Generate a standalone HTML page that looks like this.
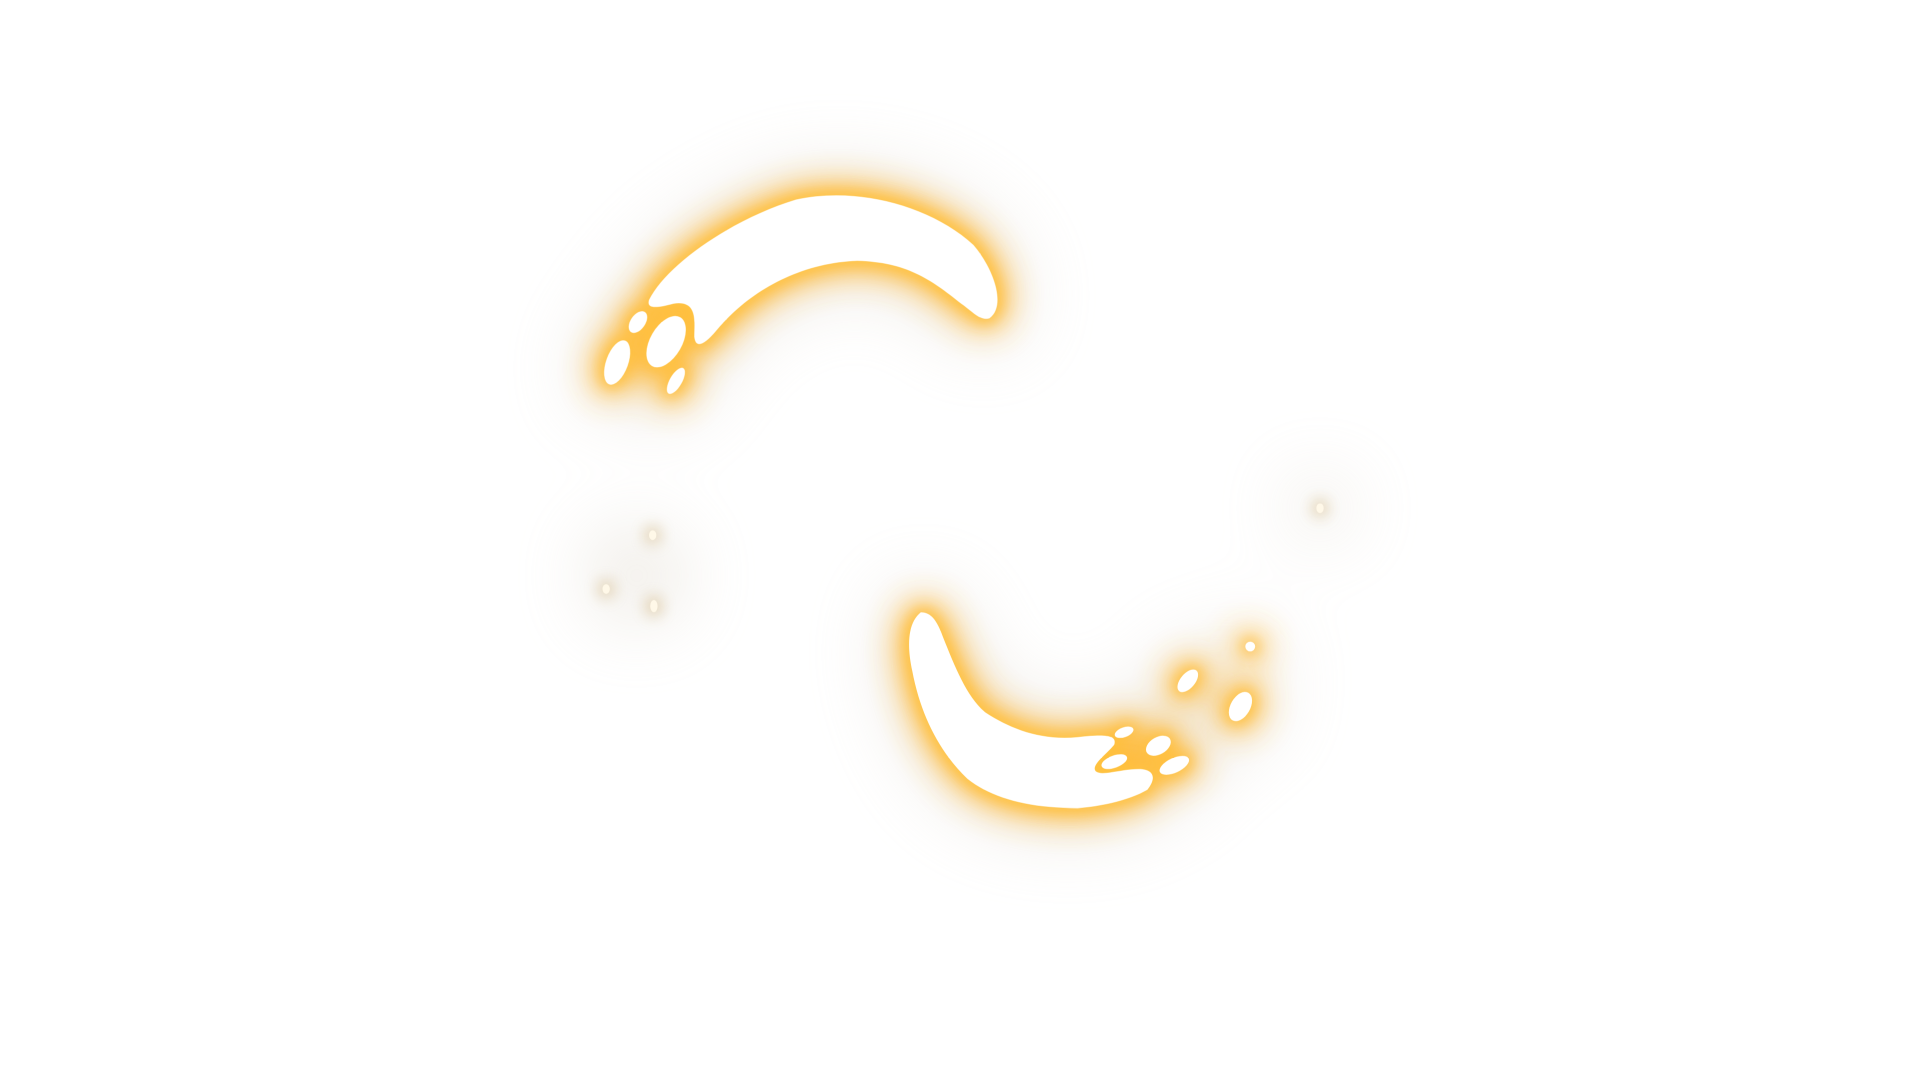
<!DOCTYPE html>
<html><head><meta charset="utf-8"><title>Glow crescents</title>
<style>
html,body{margin:0;padding:0;background:#fff;width:1920px;height:1080px;overflow:hidden;font-family:"Liberation Sans",sans-serif;}
svg{display:block}
</style></head>
<body>
<svg width="1920" height="1080" viewBox="0 0 1568 882" xmlns="http://www.w3.org/2000/svg">
<defs>
  <filter id="wide" x="-50%" y="-50%" width="200%" height="200%"><feGaussianBlur stdDeviation="30"/></filter>
  <filter id="mid" x="-50%" y="-50%" width="200%" height="200%"><feGaussianBlur stdDeviation="14"/></filter>
  <filter id="tight" x="-50%" y="-50%" width="200%" height="200%"><feGaussianBlur stdDeviation="6"/></filter>
  <g id="upper">
    <path d="M530,245 C545,215 600,178 650,163 C700,152 760,168 795,200 C812,220 822,250 808,260 C800,262 795,255 785,248 C760,228 740,214 700,213 C650,215 610,240 585,270 C575,282 568,285 567,275 C567,262 570,245 550,248 C535,252 528,252 530,245 Z"/>
    <ellipse cx="521" cy="263" rx="6" ry="10" transform="rotate(35 521 263)"/>
    <ellipse cx="544" cy="279" rx="13" ry="23" transform="rotate(30 544 279)"/>
    <ellipse cx="504" cy="296" rx="9" ry="19" transform="rotate(20 504 296)"/>
    <ellipse cx="552" cy="311" rx="5" ry="12" transform="rotate(30 552 311)"/>
  </g>
  <g id="lower">
    <path d="M752,500 C742,508 740,525 745,548 C752,585 768,615 790,636 C810,652 840,660 880,660 C905,658 925,652 937,645 C945,635 942,628 930,628 C915,628 900,634 895,630 C890,625 905,615 910,608 C912,601 905,599 880,602 C850,605 825,595 805,582 C790,570 780,545 770,520 C765,506 760,500 752,500 Z"/>
    <ellipse cx="918" cy="598" rx="8" ry="4" transform="rotate(-20 918 598)"/>
    <ellipse cx="910" cy="622" rx="11" ry="5" transform="rotate(-20 910 622)"/>
    <ellipse cx="946" cy="609" rx="11" ry="7" transform="rotate(-30 946 609)"/>
    <ellipse cx="959" cy="625" rx="13" ry="6" transform="rotate(-25 959 625)"/>
    <ellipse cx="970" cy="556" rx="6" ry="11" transform="rotate(40 970 556)"/>
    <ellipse cx="1013" cy="577" rx="8" ry="13" transform="rotate(30 1013 577)"/>
    <circle cx="1021" cy="528" r="4"/>
  </g>
  <g id="dots">
    <ellipse cx="533" cy="437" rx="3" ry="4"/>
    <ellipse cx="495" cy="481" rx="3" ry="4"/>
    <ellipse cx="534" cy="495" rx="3" ry="5"/>
    <ellipse cx="1078" cy="415" rx="3" ry="4"/>
  </g>
</defs>
<rect width="1568" height="882" fill="#fff"/>
<g fill="#d8cfc0" stroke="#d8cfc0" opacity="0.4" filter="url(#wide)">
  <use href="#upper" stroke-width="44"/>
  <use href="#lower" stroke-width="44"/>
  <circle cx="520" cy="470" r="40" stroke-width="0"/>
  <circle cx="1078" cy="415" r="25" stroke-width="0"/>
</g>
<g fill="#ffb733" stroke="#ffb733" stroke-width="18" opacity="0.9" filter="url(#mid)">
  <use href="#upper"/>
  <use href="#lower"/>
</g>
<g fill="#ffc94a" stroke="#ffbe3a" stroke-width="6" filter="url(#tight)">
  <use href="#upper"/>
  <use href="#lower"/>
</g>
<g fill="#c9a86a" stroke="#c9a86a" stroke-width="6" opacity="0.6" filter="url(#tight)">
  <use href="#dots"/>
</g>
<g fill="#fff"><use href="#upper"/></g>
<g fill="#fff"><use href="#lower"/></g>
<g fill="#fff8e8"><use href="#dots"/></g>
</svg>
</body></html>
